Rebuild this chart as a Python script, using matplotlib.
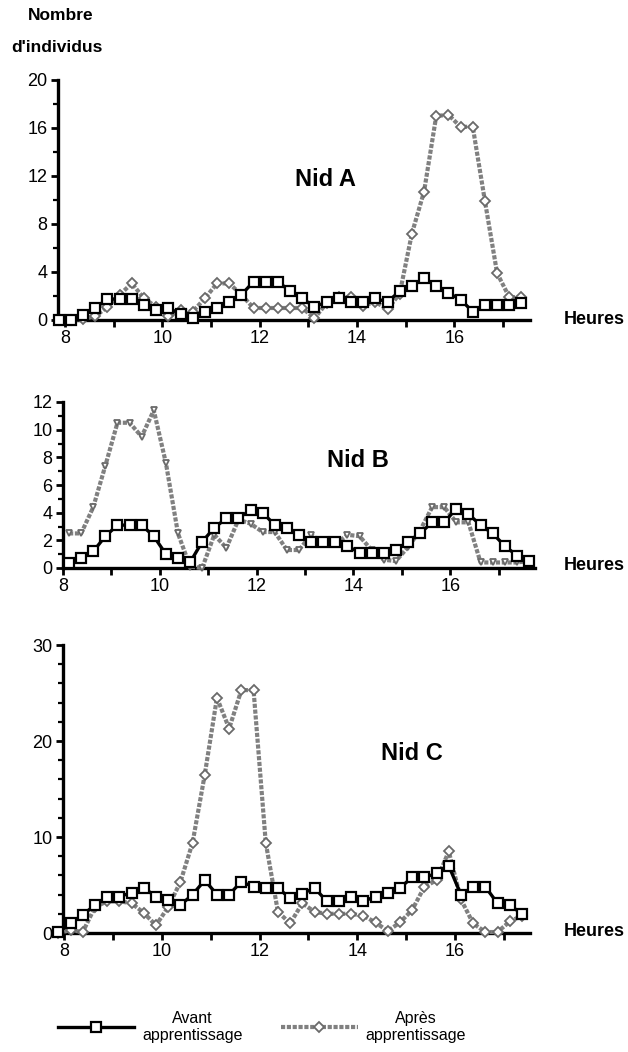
import numpy as np
import matplotlib
matplotlib.use('Agg')
import matplotlib.pyplot as plt
from matplotlib.lines import Line2D
from matplotlib.ticker import MultipleLocator

plt.rcParams['font.family'] = ['Liberation Sans', 'DejaVu Sans']

# relevés au quart d'heure
heures = np.arange(7.875, 17.5, 0.25)
heures_b = heures + 0.25

avant_a = [0, 0, 0.4, 1.0, 1.75, 1.75, 1.75, 1.25, 0.8, 1.0, 0.5, 0.15, 0.7, 1.0, 1.5, 2.1,
           3.2, 3.2, 3.2, 2.4, 1.8, 1.1, 1.5, 1.8, 1.5, 1.5, 1.8, 1.5, 2.4, 2.8, 3.5, 2.8,
           2.25, 1.7, 0.7, 1.25, 1.25, 1.25, 1.4]
apres_a = [0, 0, 0.1, 0.3, 1.1, 2.1, 3.05, 1.8, 1.1, 0.3, 0.8, 0.7, 1.8, 3.05, 3.05, 2.1,
           1.0, 1.0, 1.0, 1.0, 1.0, 0.15, 1.4, 1.9, 1.9, 1.2, 1.5, 0.9, 2.2, 7.2, 10.7, 17.0,
           17.1, 16.1, 16.1, 9.9, 3.9, 1.9, 1.9]

avant_b = [0.33, 0.7, 1.2, 2.3, 3.1, 3.1, 3.1, 2.3, 1.0, 0.7, 0.4, 1.9, 2.9, 3.6, 3.6, 4.2,
           4.0, 3.1, 2.9, 2.4, 1.9, 1.9, 1.9, 1.6, 1.1, 1.1, 1.1, 1.3, 1.9, 2.5, 3.3, 3.3,
           4.3, 3.9, 3.1, 2.5, 1.6, 0.9, 0.5]
apres_b = [2.5, 2.5, 4.4, 7.4, 10.5, 10.5, 9.5, 11.4, 7.6, 2.5, 0.1, 0.0, 2.4, 1.45, 3.5, 3.2,
           2.6, 2.6, 1.3, 1.3, 2.4, 1.8, 1.7, 2.4, 2.3, 1.3, 0.6, 0.5, 1.5, 2.7, 4.4, 4.4,
           3.3, 3.3, 0.4, 0.4, 0.4, 0.4, 0.5]

avant_c = [0.1, 1.0, 1.9, 2.9, 3.8, 3.8, 4.2, 4.7, 3.8, 3.4, 2.9, 4.0, 5.5, 4.0, 4.0, 5.35,
           4.8, 4.7, 4.7, 3.6, 4.1, 4.7, 3.3, 3.3, 3.8, 3.3, 3.8, 4.2, 4.7, 5.8, 5.8, 6.2,
           7.0, 4.0, 4.8, 4.8, 3.1, 2.9, 2.0]
apres_c = [0, 0.3, 0.1, 2.7, 3.3, 3.3, 3.1, 2.1, 0.8, 2.7, 5.3, 9.4, 16.5, 24.5, 21.3, 25.3,
           25.3, 9.4, 2.2, 1.0, 3.1, 2.2, 2.0, 2.0, 2.0, 1.8, 1.1, 0.2, 1.1, 2.4, 4.8, 5.5,
           8.5, 3.5, 1.0, 0.1, 0.1, 1.2, 1.8]
coupure_c = 35  # trait interrompu entre 16h30 et 16h45

noms = ['Nid A', 'Nid B', 'Nid C']

W, H = 628, 1052
fig = plt.figure(figsize=(W / 100, H / 100), dpi=100)
fig.patch.set_facecolor('white')


def frac(x0, y0, x1, y1):
    return [x0 / W, 1 - y1 / H, (x1 - x0) / W, (y1 - y0) / H]


avant_style = dict(color='black', lw=2.4, marker='s', ms=6.5, mfc='white', mec='black',
                   mew=1.6, zorder=4, clip_on=False)
apres_style = dict(color='#808080', lw=3.0, ls=(0, (1.0, 0.4)), ms=5, mfc='white',
                   mec='#6a6a6a', mew=1.3, zorder=3, clip_on=False)

axes = [fig.add_axes(frac(58, 80, 530, 320)),
        fig.add_axes(frac(63, 402, 535, 568)),
        fig.add_axes(frac(63, 645, 530, 933))]
xlims = [(7.86, 17.55), (8.0, 17.75), (7.97, 17.54)]
ylims = [(0, 20), (0, 12), (0, 30)]
majeurs = [4, 2, 10]
mineurs = [2, 1, 2]
pos_nid = [(13.35, 11.7), (14.1, 7.8), (15.12, 18.75)]
y_heures = [320, 565, 932]

series = [(heures, avant_a, apres_a, 'D'),
          (heures_b, avant_b, apres_b, 'v'),
          (heures, avant_c, apres_c, 'D')]

for i, ax in enumerate(axes):
    t, av, ap, mk = series[i]
    ax.plot(t, ap, marker=mk, **apres_style)
    if i == 2:
        ax.plot(t[:coupure_c], av[:coupure_c], **avant_style)
        ax.plot(t[coupure_c:], av[coupure_c:], **avant_style)
    else:
        ax.plot(t, av, **avant_style)

    ax.set_xlim(*xlims[i])
    ax.set_ylim(*ylims[i])
    ax.spines['top'].set_visible(False)
    ax.spines['right'].set_visible(False)
    ax.spines['left'].set_linewidth(2.4)
    ax.spines['bottom'].set_linewidth(2.4)
    ax.set_facecolor('none')

    ax.set_xticks(range(8, 18))
    ax.set_xticklabels([str(h) if h % 2 == 0 else '' for h in range(8, 18)])
    ax.yaxis.set_major_locator(MultipleLocator(majeurs[i]))
    ax.yaxis.set_minor_locator(MultipleLocator(mineurs[i]))
    ax.tick_params(axis='both', which='major', direction='out', length=5, width=2,
                   labelsize=13, pad=2.5)
    ax.tick_params(axis='y', which='minor', direction='out', length=3.5, width=1.6)
    ax.text(pos_nid[i][0], pos_nid[i][1], noms[i], ha='center', va='center',
            fontsize=17, fontweight='bold')
    fig.text(594 / W, 1 - y_heures[i] / H, 'Heures', ha='center', va='center',
             fontsize=13, fontweight='bold')

fig.text(61 / W, 1 - 15 / H, 'Nombre', ha='center', va='center', fontsize=12.5,
         fontweight='bold')
fig.text(57 / W, 1 - 47 / H, "d'individus", ha='center', va='center', fontsize=12.5,
         fontweight='bold')

h_avant = Line2D([], [], **avant_style)
h_apres = Line2D([], [], marker='D', **apres_style)
leg = fig.legend([h_avant, h_apres], ['Avant\napprentissage', 'Après\napprentissage'],
                 loc='center', bbox_to_anchor=(262 / W, 1 - 1027 / H), ncol=2,
                 frameon=False, fontsize=11.5, handlelength=4.8, handletextpad=0.5,
                 columnspacing=2.4, numpoints=1)
for txt in leg.get_texts():
    txt.set_multialignment('center')

fig.savefig('out.png', dpi=100, facecolor='white')
